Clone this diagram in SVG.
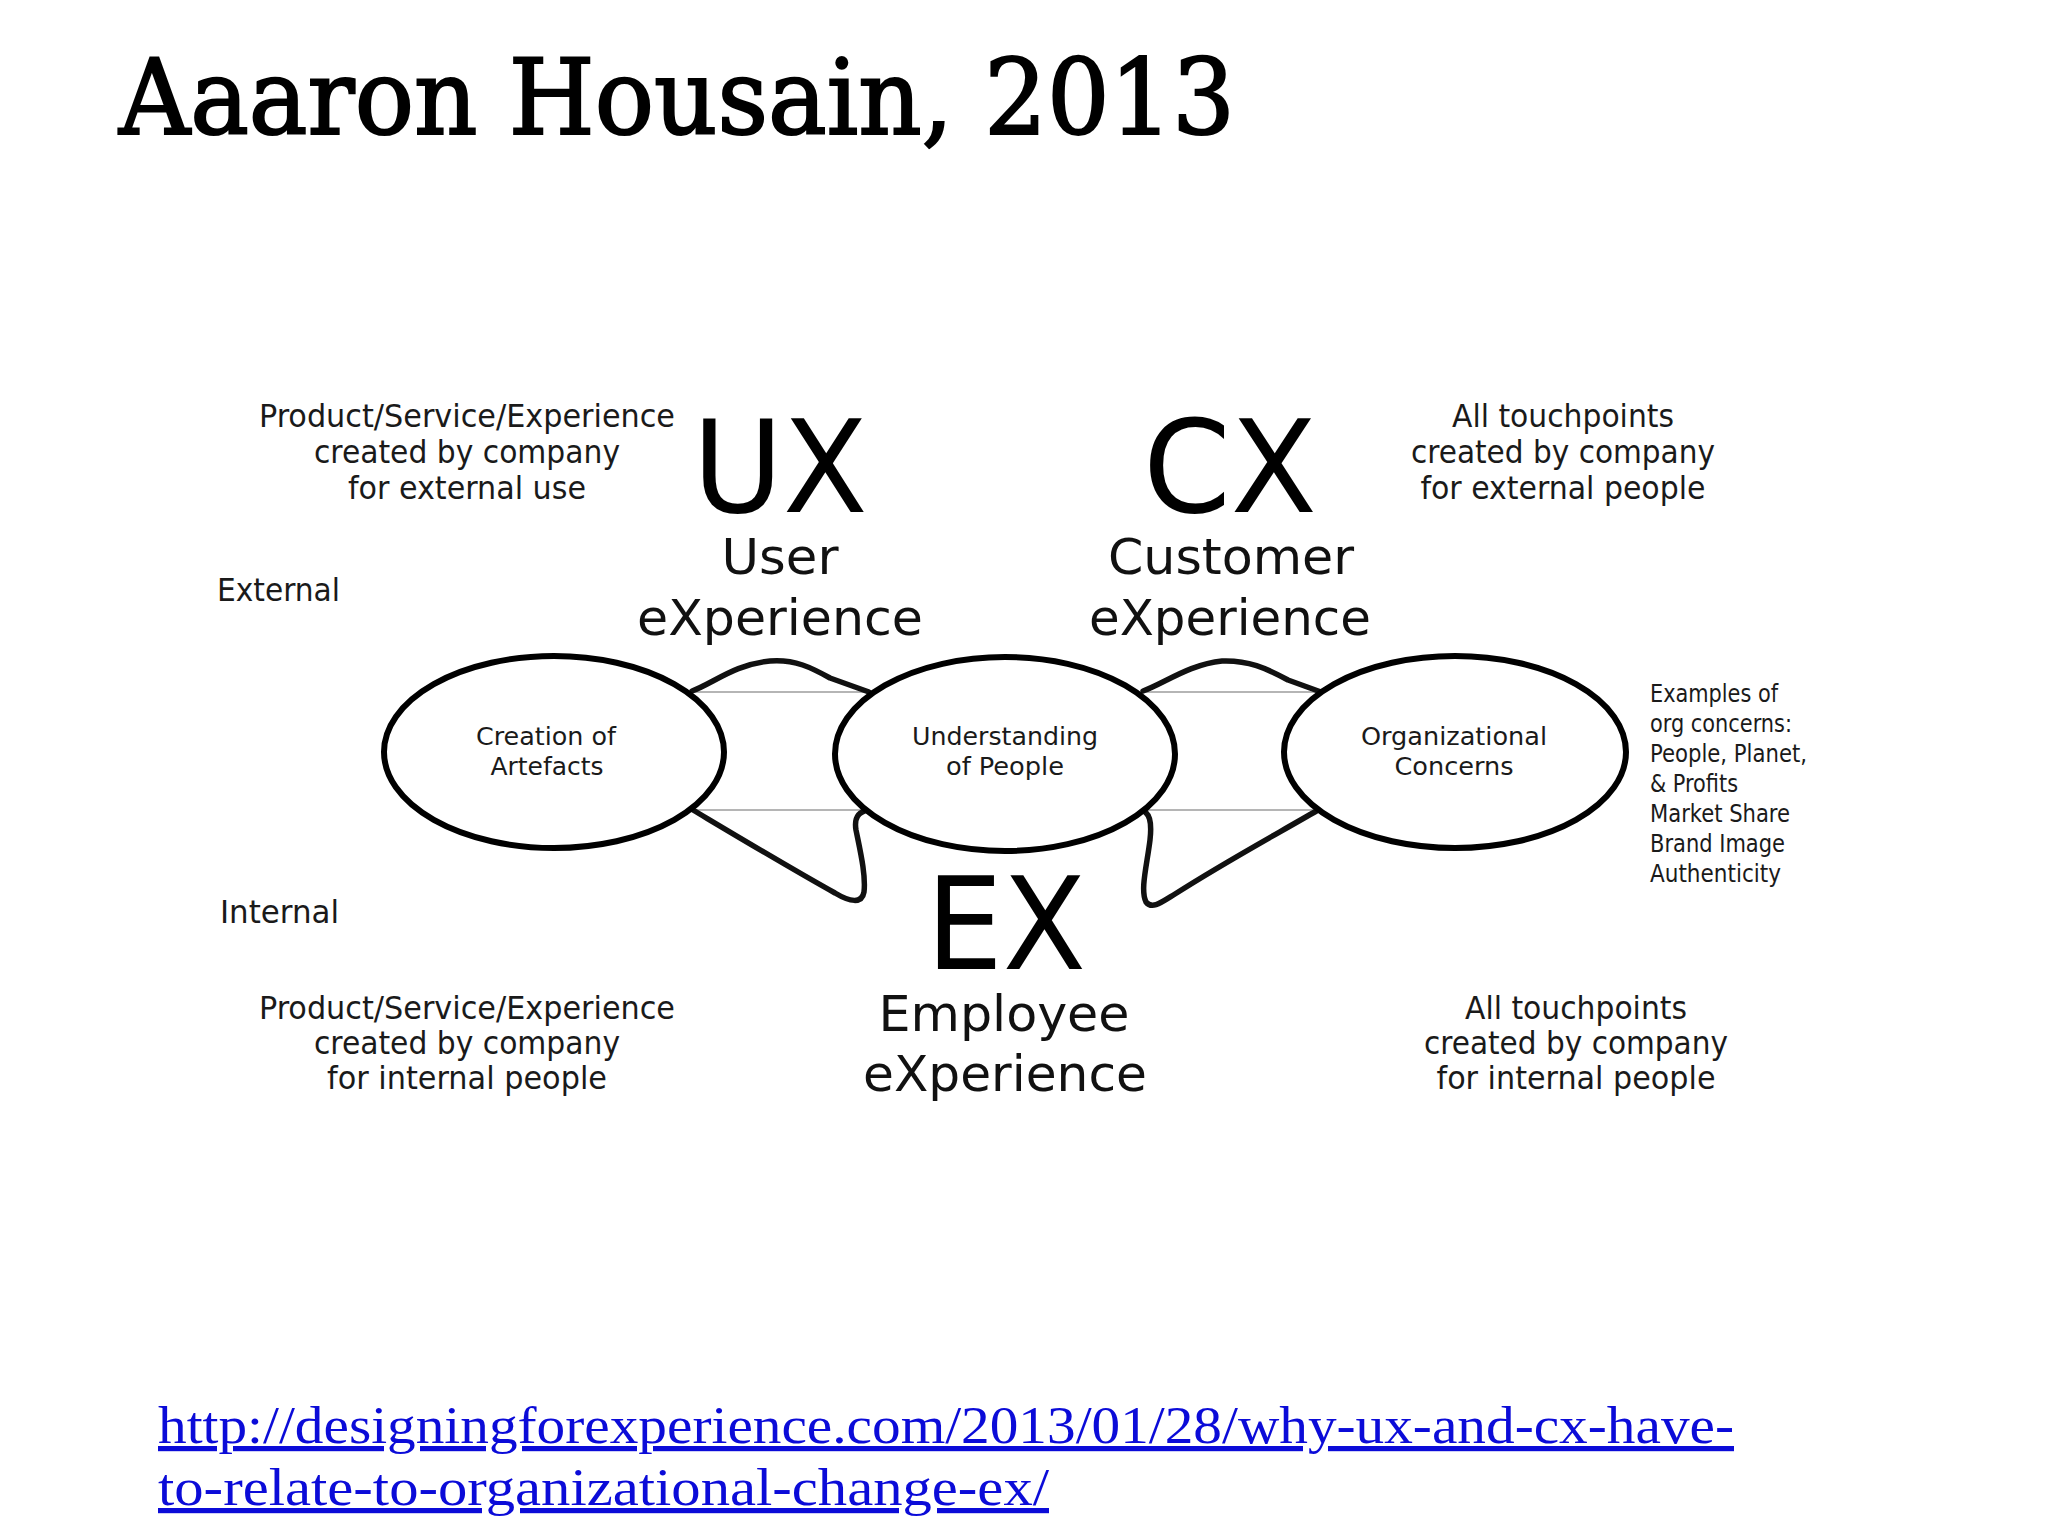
<svg xmlns="http://www.w3.org/2000/svg" width="2048" height="1536" viewBox="0 0 2048 1536">
<style>
  .title { font-family: "DejaVu Serif", "Liberation Serif", serif; font-size: 104px; fill: #000; stroke: #000; stroke-width: 2.2px; }
  .t { font-family: "DejaVu Sans Condensed", "DejaVu Sans", sans-serif; fill: #1a1a1a; text-anchor: middle; }
  .side { font-family: "DejaVu Sans Condensed", "DejaVu Sans", sans-serif; fill: #1a1a1a; font-size: 32px; }
  .note { font-size: 32px; }
  .big { font-size: 128px; fill: #000; }
  .mid { font-size: 50px; fill: #111; }
  .lbl { font-size: 25px; }
  .ex { font-family: "DejaVu Sans Condensed", "DejaVu Sans", sans-serif; fill: #1a1a1a; font-size: 24px; }
  .url { font-family: "Liberation Serif", serif; font-size: 52px; fill: #0b0bd8; text-decoration: underline; }
  .bubble { fill: #fff; stroke: #000; stroke-width: 6; }
  .tail { fill: none; stroke: #111; stroke-width: 5.5; stroke-linejoin: round; stroke-linecap: round; }
  .thin { stroke: #b5b5b5; stroke-width: 2; }
</style>

<text class="title" x="119" y="134" textLength="1116" lengthAdjust="spacingAndGlyphs">Aaaron Housain, 2013</text>

<g id="connectors">
  <line class="thin" x1="692" y1="692" x2="868" y2="692"/>
  <line class="thin" x1="692" y1="810" x2="868" y2="810"/>
  <line class="thin" x1="1143" y1="692" x2="1320" y2="692"/>
  <line class="thin" x1="1143" y1="810" x2="1320" y2="810"/>
  <path class="tail" d="M692,691 C712,684 735,664 770,661 C795,659 812,668 830,678 L869,692"/>
  <path class="tail" d="M1143,691 C1163,684 1190,664 1222,661 C1248,660 1266,668 1288,680 L1321,692"/>
  <path class="tail" d="M693,810 C735,835 790,868 835,893 C850,902 862,904 864,892 C866,875 860,850 856,830 C854,818 858,812 868,810"/>
  <path class="tail" d="M1140,809 C1150,812 1152,822 1150,840 C1147,865 1140,890 1146,902 C1152,910 1162,902 1175,894 C1225,862 1275,835 1318,810"/>
</g>

<g id="node-creation">
  <ellipse class="bubble" cx="554" cy="752" rx="170" ry="96"/>
  <text class="t lbl" x="546" y="745" textLength="140" lengthAdjust="spacingAndGlyphs">Creation of</text>
  <text class="t lbl" x="547" y="775" textLength="113" lengthAdjust="spacingAndGlyphs">Artefacts</text>
</g>

<g id="node-understanding">
  <ellipse class="bubble" cx="1005" cy="754" rx="170" ry="97"/>
  <text class="t lbl" x="1005" y="745" textLength="186" lengthAdjust="spacingAndGlyphs">Understanding</text>
  <text class="t lbl" x="1005" y="775" textLength="118" lengthAdjust="spacingAndGlyphs">of People</text>
</g>

<g id="node-organizational">
  <ellipse class="bubble" cx="1455" cy="752" rx="171" ry="96"/>
  <text class="t lbl" x="1454" y="745" textLength="186" lengthAdjust="spacingAndGlyphs">Organizational</text>
  <text class="t lbl" x="1454" y="775" textLength="119" lengthAdjust="spacingAndGlyphs">Concerns</text>
</g>

<g id="ux">
  <text class="t big" x="780" y="512" textLength="175" lengthAdjust="spacingAndGlyphs">UX</text>
  <text class="t mid" x="780" y="574" textLength="117" lengthAdjust="spacingAndGlyphs">User</text>
  <text class="t mid" x="780" y="635" textLength="286" lengthAdjust="spacingAndGlyphs">eXperience</text>
</g>

<g id="cx">
  <text class="t big" x="1230" y="512" textLength="174" lengthAdjust="spacingAndGlyphs">CX</text>
  <text class="t mid" x="1231" y="574" textLength="246" lengthAdjust="spacingAndGlyphs">Customer</text>
  <text class="t mid" x="1230" y="635" textLength="282" lengthAdjust="spacingAndGlyphs">eXperience</text>
</g>

<g id="exp">
  <text class="t big" x="1006" y="969" textLength="160" lengthAdjust="spacingAndGlyphs">EX</text>
  <text class="t mid" x="1004" y="1031" textLength="251" lengthAdjust="spacingAndGlyphs">Employee</text>
  <text class="t mid" x="1005" y="1091" textLength="284" lengthAdjust="spacingAndGlyphs">eXperience</text>
</g>

<g id="note-top-left">
  <text class="t note" x="467" y="427" textLength="416" lengthAdjust="spacingAndGlyphs">Product/Service/Experience</text>
  <text class="t note" x="467" y="463" textLength="306" lengthAdjust="spacingAndGlyphs">created by company</text>
  <text class="t note" x="467" y="499" textLength="238" lengthAdjust="spacingAndGlyphs">for external use</text>
</g>

<g id="note-top-right">
  <text class="t note" x="1563" y="427" textLength="222" lengthAdjust="spacingAndGlyphs">All touchpoints</text>
  <text class="t note" x="1563" y="463" textLength="304" lengthAdjust="spacingAndGlyphs">created by company</text>
  <text class="t note" x="1563" y="499" textLength="285" lengthAdjust="spacingAndGlyphs">for external people</text>
</g>

<g id="note-bottom-left">
  <text class="t note" x="467" y="1019" textLength="416" lengthAdjust="spacingAndGlyphs">Product/Service/Experience</text>
  <text class="t note" x="467" y="1054" textLength="306" lengthAdjust="spacingAndGlyphs">created by company</text>
  <text class="t note" x="467" y="1089" textLength="280" lengthAdjust="spacingAndGlyphs">for internal people</text>
</g>

<g id="note-bottom-right">
  <text class="t note" x="1576" y="1019" textLength="222" lengthAdjust="spacingAndGlyphs">All touchpoints</text>
  <text class="t note" x="1576" y="1054" textLength="304" lengthAdjust="spacingAndGlyphs">created by company</text>
  <text class="t note" x="1576" y="1089" textLength="279" lengthAdjust="spacingAndGlyphs">for internal people</text>
</g>

<g id="axis-labels">
  <text class="side" x="217" y="601" textLength="123" lengthAdjust="spacingAndGlyphs">External</text>
  <text class="side" x="220" y="923" textLength="119" lengthAdjust="spacingAndGlyphs">Internal</text>
</g>

<g id="examples">
  <text class="ex" x="1650" y="702" textLength="128" lengthAdjust="spacingAndGlyphs">Examples of</text>
  <text class="ex" x="1650" y="732" textLength="142" lengthAdjust="spacingAndGlyphs">org concerns:</text>
  <text class="ex" x="1650" y="762" textLength="157" lengthAdjust="spacingAndGlyphs">People, Planet,</text>
  <text class="ex" x="1650" y="792" textLength="88" lengthAdjust="spacingAndGlyphs">&amp; Profits</text>
  <text class="ex" x="1650" y="822" textLength="140" lengthAdjust="spacingAndGlyphs">Market Share</text>
  <text class="ex" x="1650" y="852" textLength="135" lengthAdjust="spacingAndGlyphs">Brand Image</text>
  <text class="ex" x="1650" y="882" textLength="131" lengthAdjust="spacingAndGlyphs">Authenticity</text>
</g>

<g id="link">
  <text class="url" x="158" y="1443" textLength="1576" lengthAdjust="spacingAndGlyphs">http://designingforexperience.com/2013/01/28/why-ux-and-cx-have-</text>
  <text class="url" x="158" y="1505" textLength="891" lengthAdjust="spacingAndGlyphs">to-relate-to-organizational-change-ex/</text>
</g>
</svg>
